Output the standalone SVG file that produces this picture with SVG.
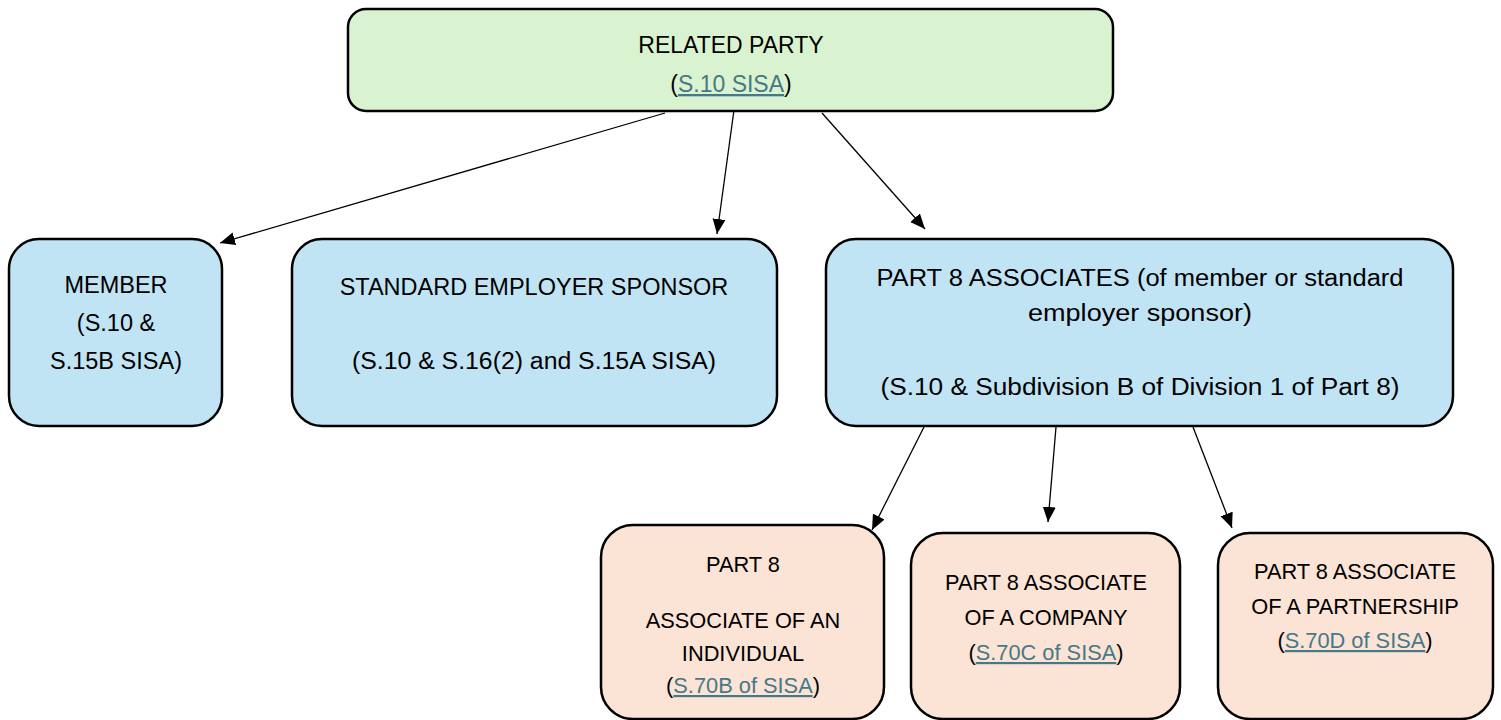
<svg xmlns="http://www.w3.org/2000/svg" width="1501" height="720" viewBox="0 0 1501 720">
<defs>
<marker id="arr" markerUnits="userSpaceOnUse" markerWidth="16" markerHeight="14" refX="15" refY="6.5" orient="auto">
<path d="M0,0 L15,6.5 L0,13 z" fill="#000"/>
</marker>
<style>
.box{stroke:#000;stroke-width:2.5}
.g{fill:#D9F2D0}
.b{fill:#C1E4F5}
.p{fill:#FBE3D6}
text{font-family:"Liberation Sans",Arial,sans-serif;fill:#000;text-anchor:middle}
.t1{font-size:23px}
.t2{font-size:23.5px}
.t3{font-size:21.8px}
.lk{fill:#467886;text-decoration:underline}
.c{stroke:#000;stroke-width:1.3;fill:none;marker-end:url(#arr)}
</style>
</defs>
<rect width="1501" height="720" fill="#fff"/>
<g id="related-party">
<rect class="box g" x="348" y="9" width="765" height="102" rx="18"/>
<text class="t1" x="731" y="53">RELATED PARTY</text>
<text class="t1" x="731" y="92">(<tspan class="lk">S.10 SISA</tspan>)</text>
</g>
<g id="member">
<rect class="box b" x="9" y="239" width="213" height="187" rx="30"/>
<text class="t2" x="116" y="293">MEMBER</text>
<text class="t2" x="116" y="331">(S.10 &amp;</text>
<text class="t2" x="116" y="369">S.15B SISA)</text>
</g>
<g id="standard-employer-sponsor">
<rect class="box b" x="292" y="239" width="485" height="187" rx="30"/>
<text class="t2" x="534" y="295">STANDARD EMPLOYER SPONSOR</text>
<text class="t2" x="534" y="369" textLength="364" lengthAdjust="spacingAndGlyphs">(S.10 &amp; S.16(2) and S.15A SISA)</text>
</g>
<g id="part8-associates">
<rect class="box b" x="826" y="239" width="627" height="187" rx="30"/>
<text class="t2" x="1140" y="286" textLength="527" lengthAdjust="spacingAndGlyphs">PART 8 ASSOCIATES (of member or standard</text>
<text class="t2" x="1140" y="321" textLength="224" lengthAdjust="spacingAndGlyphs">employer sponsor)</text>
<text class="t2" x="1140" y="395" textLength="519" lengthAdjust="spacingAndGlyphs">(S.10 &amp; Subdivision B of Division 1 of Part 8)</text>
</g>
<g id="associate-individual">
<rect class="box p" x="601" y="525" width="283" height="194" rx="32"/>
<text class="t3" x="743" y="572">PART 8</text>
<text class="t3" x="743" y="628">ASSOCIATE OF AN</text>
<text class="t3" x="743" y="661">INDIVIDUAL</text>
<text class="t3" x="743" y="693">(<tspan class="lk">S.70B of SISA</tspan>)</text>
</g>
<g id="associate-company">
<rect class="box p" x="911" y="533" width="269" height="186" rx="32"/>
<text class="t3" x="1046" y="590">PART 8 ASSOCIATE</text>
<text class="t3" x="1046" y="625">OF A COMPANY</text>
<text class="t3" x="1046" y="660">(<tspan class="lk">S.70C of SISA</tspan>)</text>
</g>
<g id="associate-partnership">
<rect class="box p" x="1218" y="533" width="275" height="186" rx="32"/>
<text class="t3" x="1355" y="579">PART 8 ASSOCIATE</text>
<text class="t3" x="1355" y="614">OF A PARTNERSHIP</text>
<text class="t3" x="1355" y="648">(<tspan class="lk">S.70D of SISA</tspan>)</text>
</g>
<g id="connectors">
<line class="c" x1="665" y1="113" x2="220" y2="243"/>
<line class="c" x1="734" y1="110" x2="717" y2="234"/>
<line class="c" x1="822" y1="113" x2="925" y2="229"/>
<line class="c" x1="924" y1="427" x2="872" y2="530"/>
<line class="c" x1="1056" y1="427" x2="1048" y2="522"/>
<line class="c" x1="1193" y1="427" x2="1232" y2="528"/>
</g>
</svg>
